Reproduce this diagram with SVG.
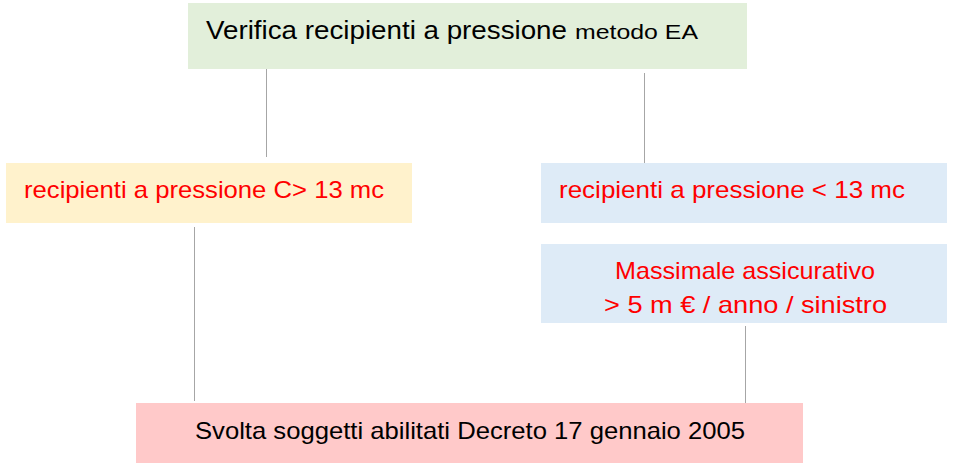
<svg xmlns="http://www.w3.org/2000/svg" width="955" height="470" viewBox="0 0 955 470">
<style>
.t{font-family:"Liberation Sans",Arial,sans-serif;font-size:24px}
.red{fill:#FF0000}
.blk{fill:#000000}
.c{stroke:#A6A6A6;stroke-width:1;fill:none}
</style>
<rect width="955" height="470" fill="#FFFFFF"/>
<g id="connectors">
<line class="c" x1="266.5" y1="69" x2="266.5" y2="157"/>
<line class="c" x1="644.5" y1="73" x2="644.5" y2="163"/>
<line class="c" x1="194.5" y1="227" x2="194.5" y2="401"/>
<line class="c" x1="745.5" y1="326" x2="745.5" y2="403"/>
</g>
<g id="top">
<rect x="188" y="3" width="559" height="66" fill="#E2EFDA"/>
<text class="t blk" x="206" y="39"><tspan font-size="26" textLength="361" lengthAdjust="spacingAndGlyphs">Verifica recipienti a pressione</tspan><tspan font-size="21" dx="8" textLength="123" lengthAdjust="spacingAndGlyphs">metodo EA</tspan></text>
</g>
<g id="left">
<rect x="6" y="163" width="406" height="60" fill="#FFF2CC"/>
<text class="t red" x="24" y="198" textLength="360" lengthAdjust="spacingAndGlyphs">recipienti a pressione C&gt; 13 mc</text>
</g>
<g id="right">
<rect x="541" y="163" width="406" height="60" fill="#DEEBF7"/>
<text class="t red" x="559" y="198" textLength="346" lengthAdjust="spacingAndGlyphs">recipienti a pressione &lt; 13 mc</text>
</g>
<g id="massimale">
<rect x="541" y="244" width="406" height="79" fill="#DEEBF7"/>
<text class="t red" x="615" y="279" textLength="260" lengthAdjust="spacingAndGlyphs">Massimale assicurativo</text>
<text class="t red" x="604" y="313" textLength="283" lengthAdjust="spacingAndGlyphs">&gt; 5 m € / anno / sinistro</text>
</g>
<g id="bottom">
<rect x="136" y="403" width="667" height="60" fill="#FFC9C9"/>
<text class="t blk" x="195" y="439" textLength="550" lengthAdjust="spacingAndGlyphs">Svolta soggetti abilitati Decreto 17 gennaio 2005</text>
</g>
</svg>
